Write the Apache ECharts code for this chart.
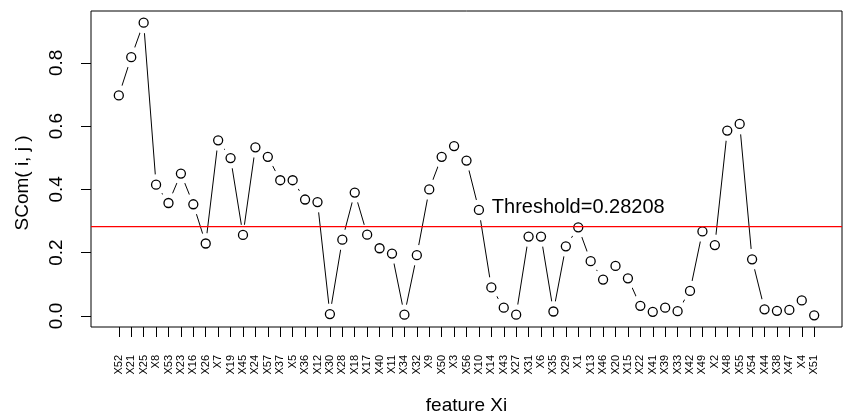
<!DOCTYPE html>
<html>
<head>
<meta charset="utf-8">
<script src="https://cdn.jsdelivr.net/npm/echarts@6/dist/echarts.min.js"></script>
<style>
  html, body { margin: 0; padding: 0; background: #fff; }
  #chart { width: 843px; height: 415px; }
</style>
</head>
<body>
<div id="chart"></div>
<script>
// Features ordered as plotted, with their SCom(i, j) scores
const features = [
  'X52','X21','X25','X8','X53','X23','X16','X26','X7','X19',
  'X45','X24','X57','X37','X5','X36','X12','X30','X28','X18',
  'X17','X40','X11','X34','X32','X9','X50','X3','X56','X10',
  'X14','X43','X27','X31','X6','X35','X29','X1','X13','X46',
  'X20','X15','X22','X41','X39','X33','X42','X49','X2','X48',
  'X55','X54','X44','X38','X47','X4','X51'
];
const scores = [
  0.697, 0.818, 0.927, 0.415, 0.357, 0.450, 0.353, 0.229, 0.555, 0.499,
  0.256, 0.533, 0.503, 0.429, 0.429, 0.368, 0.360, 0.006, 0.241, 0.390,
  0.257, 0.214, 0.197, 0.004, 0.192, 0.400, 0.503, 0.537, 0.491, 0.335,
  0.090, 0.026, 0.004, 0.251, 0.251, 0.014, 0.220, 0.280, 0.173, 0.115,
  0.158, 0.119, 0.032, 0.013, 0.026, 0.015, 0.079, 0.267, 0.224, 0.586,
  0.607, 0.179, 0.021, 0.016, 0.019, 0.049, 0.002
];
const yTicks = [0, 0.2, 0.4, 0.6, 0.8];
const threshold = 0.28208;
const thresholdText = 'Threshold=0.28208';
const thresholdTextAt = 'X1';
const thresholdTextRise = 0.06;

const FONT = '"Liberation Sans", Arial, Helvetica, sans-serif';
const n = features.length;
const positions = features.map((_, i) => i + 1);
const points = scores.map((v, i) => [i + 1, v]);

// Axis ranges padded by 4% on each side, like base R graphics
const xPad = 0.04 * (n - 1);
const xLo = 1 - xPad, xHi = n + xPad;
const yLoData = Math.min(...scores), yHiData = Math.max(...scores);
const yPad = 0.04 * (yHiData - yLoData);

const chart = echarts.init(document.getElementById('chart'), null, { renderer: 'canvas' });
chart.setOption({
  animation: false,
  backgroundColor: '#fff',
  textStyle: { fontFamily: FONT },
  grid: {
    left: 91, right: 1, top: 11, bottom: 88,
    outerBoundsMode: 'none', containLabel: false,
    show: true, borderColor: '#000', borderWidth: 1, backgroundColor: 'transparent'
  },
  xAxis: {
    type: 'value',
    min: xLo, max: xHi,
    axisLine: { show: false, onZero: false },
    splitLine: { show: false },
    axisTick: { show: true, inside: false, length: 10, customValues: positions,
                lineStyle: { color: '#000', width: 1 } },
    axisLabel: { show: true, customValues: positions, rotate: 90, margin: 28,
                 fontSize: 11, color: '#000', fontFamily: FONT,
                 formatter: v => features[Math.round(v) - 1] },
    name: 'feature Xi', nameLocation: 'middle', nameGap: 69,
    nameTextStyle: { fontSize: 19, color: '#000', fontFamily: FONT }
  },
  yAxis: {
    type: 'value',
    min: yLoData - yPad, max: yHiData + yPad,
    axisLine: { show: false, onZero: false },
    splitLine: { show: false },
    axisTick: { show: true, inside: false, length: 10, customValues: yTicks,
                lineStyle: { color: '#000', width: 1 } },
    axisLabel: { show: true, customValues: yTicks, rotate: 90, margin: 25,
                 fontSize: 19, color: '#000', fontFamily: FONT,
                 formatter: v => v.toFixed(1) },
    name: 'SCom( i, j )', nameLocation: 'middle', nameGap: 59, nameRotate: 90,
    nameTextStyle: { fontSize: 19, color: '#000', fontFamily: FONT, padding: [0, 28, 0, 0] }
  },
  series: [
    {
      // connecting segments
      type: 'line', data: points, symbol: 'none', silent: true, z: 2,
      lineStyle: { color: '#000', width: 1 }
    },
    {
      // white halo so segments stop short of each point
      type: 'scatter', data: points, symbol: 'circle', symbolSize: 21, silent: true, z: 3,
      itemStyle: { color: '#fff', borderWidth: 0, opacity: 1 }
    },
    {
      // open circles
      type: 'scatter', data: points, symbol: 'circle', symbolSize: 9, silent: true, z: 4,
      itemStyle: { color: '#fff', borderColor: '#000', borderWidth: 1.3, opacity: 1 }
    },
    {
      // horizontal threshold across the full plot width
      type: 'line', silent: true, z: 6, symbol: 'none',
      data: [[xLo, threshold], [xHi, threshold]],
      lineStyle: { color: '#ff0000', width: 1.2 }
    },
    {
      // threshold caption
      type: 'scatter', silent: true, z: 7, symbolSize: 0,
      itemStyle: { opacity: 1 },
      data: [[features.indexOf(thresholdTextAt) + 1, threshold + thresholdTextRise]],
      label: { show: true, position: 'inside', formatter: thresholdText,
               fontSize: 20, color: '#000', fontFamily: FONT }
    }
  ]
});
</script>
</body>
</html>
